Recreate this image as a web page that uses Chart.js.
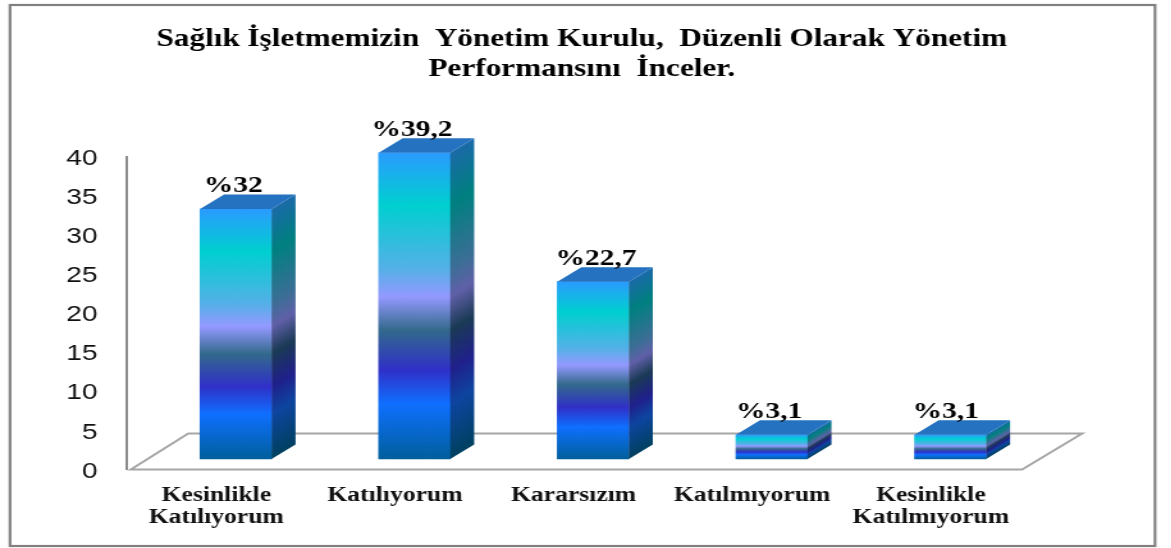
<!DOCTYPE html>
<html>
<head>
<meta charset="utf-8">
<style>
  html, body { margin: 0; padding: 0; background: #fff; overflow: hidden; }
  /* the reference is a horizontally stretched picture, so the canvas is stretched too */
  #chart { position: absolute; left: 0; top: 0; transform-origin: 0 0; transform: scaleX(1.28); }
</style>
</head>
<body>
<canvas id="chart" width="915" height="548"></canvas>
<script src="https://cdn.jsdelivr.net/npm/chart.js@4"></script>
<script>
const categories = [['Kesinlikle', 'Katılıyorum'], 'Katılıyorum', 'Kararsızım', 'Katılmıyorum', ['Kesinlikle', 'Katılmıyorum']];
const values = [32, 39.2, 22.7, 3.1, 3.1];
const valueLabels = ['%32', '%39,2', '%22,7', '%3,1', '%3,1'];
const titleLines = ['Sağlık İşletmemizin  Yönetim Kurulu,  Düzenli Olarak Yönetim', 'Performansını  İnceler.'];

const STRETCH = 1.28;
const serif = '"Liberation Serif", serif';
const barShift = { x: 19.5 / STRETCH, y: -10.5 }; // front of the bars stands inside the floor
const barDepth = { x: 24 / STRETCH, y: -14.5 };
const floorDepth = { x: 60 / STRETCH, y: -36 };
const labelNudge = [0, 0, 5.5, 0, -2]; // the value labels are not all centred on their bar

const frontStops = [[0, '#2b9bff'], [0.17, '#00cfd0'], [0.38, '#55b0e8'], [0.47, '#9499ff'], [0.58, '#33698c'], [0.71, '#3030c8'], [0.82, '#0f6fff'], [1, '#005f9b']];
const sideStops = [[0, '#1a6aa8'], [0.17, '#008080'], [0.38, '#3c6e96'], [0.47, '#6060a8'], [0.58, '#1a3a55'], [0.71, '#20208c'], [0.82, '#0d45a0'], [1, '#004060']];

const makeGradient = (ctx, x0, y0, x1, y1, stops) => {
  const g = ctx.createLinearGradient(x0, y0, x1, y1);
  stops.forEach(([at, color]) => g.addColorStop(at, color));
  return g;
};

// colour bands on the side face run along the depth direction
const sideGradient = (ctx, x, top, bottom) => {
  const len = Math.hypot(barDepth.x, barDepth.y);
  const nx = -barDepth.y / len;
  const ny = barDepth.x / len;
  const proj = (bottom - top) * ny;
  return makeGradient(ctx, x, top, x + nx * proj, top + ny * proj, sideStops);
};

const frame3d = {
  id: 'frame3d',
  afterLayout(chart) {
    // title is centred on the whole frame, not only the part left of the right padding
    chart.titleBlock.right = chart.width - 6;
  },
  beforeDraw(chart) {
    const { ctx } = chart;
    ctx.save();
    ctx.strokeStyle = '#808080';
    ctx.lineWidth = 2.2;
    ctx.strokeRect(10 / STRETCH, 5, 1145 / STRETCH, 541);
    ctx.restore();
  },
  beforeDatasetsDraw(chart) {
    const { ctx, chartArea: a } = chart;
    // floor of the 3D box
    ctx.save();
    ctx.strokeStyle = '#a6a6a6';
    ctx.lineWidth = 2;
    ctx.beginPath();
    ctx.moveTo(a.left + 3, a.bottom);
    ctx.lineTo(a.right + 1.5, a.bottom);
    ctx.lineTo(a.right + 1.5 + floorDepth.x, a.bottom + floorDepth.y);
    ctx.lineTo(a.left + 3 + floorDepth.x - 2, a.bottom + floorDepth.y);
    ctx.closePath();
    ctx.stroke();
    ctx.restore();

    ctx.save();
    ctx.translate(barShift.x, barShift.y);
  },
  afterDatasetsDraw(chart) {
    const { ctx } = chart;
    chart.getDatasetMeta(0).data.forEach((bar, i) => {
      const right = bar.x + bar.width / 2;
      const left = bar.x - bar.width / 2;
      // side face
      ctx.fillStyle = sideGradient(ctx, right, bar.y, bar.base);
      ctx.beginPath();
      ctx.moveTo(right, bar.y);
      ctx.lineTo(right + barDepth.x, bar.y + barDepth.y);
      ctx.lineTo(right + barDepth.x, bar.base + barDepth.y);
      ctx.lineTo(right, bar.base);
      ctx.closePath();
      ctx.fill();
      // top face
      ctx.fillStyle = '#2472c0';
      ctx.beginPath();
      ctx.moveTo(left, bar.y);
      ctx.lineTo(left + barDepth.x, bar.y + barDepth.y);
      ctx.lineTo(right + barDepth.x, bar.y + barDepth.y);
      ctx.lineTo(right, bar.y);
      ctx.closePath();
      ctx.fill();
      // value label
      ctx.fillStyle = '#000';
      ctx.font = 'bold 23px ' + serif;
      ctx.textAlign = 'center';
      ctx.textBaseline = 'middle';
      ctx.fillText(valueLabels[i], bar.x - 2 + labelNudge[i] / STRETCH, bar.y - 23);
    });
    ctx.restore();
  }
};

const chart = new Chart(document.getElementById('chart'), {
  type: 'bar',
  data: {
    labels: categories,
    datasets: [{
      data: values,
      barThickness: 71.5 / STRETCH,
      clip: false,
      backgroundColor: (c) => {
        if (!c.chart.chartArea) return '#2b9bff';
        const y = c.chart.scales.y;
        return makeGradient(c.chart.ctx, 0, y.getPixelForValue(values[c.dataIndex]), 0, y.getPixelForValue(0), frontStops);
      }
    }]
  },
  options: {
    responsive: false,
    animation: false,
    devicePixelRatio: 1,
    layout: { padding: { left: 0, right: 118, top: 0, bottom: 0 } },
    scales: {
      x: {
        grid: { display: false },
        border: { display: false },
        afterFit: (scale) => { scale.height = 78.5; },
        ticks: {
          padding: 7,
          color: '#111',
          autoSkip: false,
          maxRotation: 0,
          font: { family: serif, size: 20, weight: 'bold', lineHeight: 1.1 }
        }
      },
      y: {
        min: 0,
        max: 40,
        grid: { display: false, drawTicks: false },
        border: { color: '#8c8c8c', width: 2 },
        afterFit: (scale) => { scale.width = 99.2; },
        ticks: {
          stepSize: 5,
          padding: 23,
          labelOffset: 2,
          color: '#111',
          font: { family: '"Liberation Sans", sans-serif', size: 22 }
        }
      }
    },
    plugins: {
      legend: { display: false },
      tooltip: { enabled: false },
      title: {
        display: true,
        text: titleLines,
        color: '#000',
        font: { family: serif, size: 24.4, weight: 'bold', lineHeight: 1.25 },
        padding: { top: 24, bottom: 72 }
      }
    }
  },
  plugins: [frame3d]
});
</script>
</body>
</html>
